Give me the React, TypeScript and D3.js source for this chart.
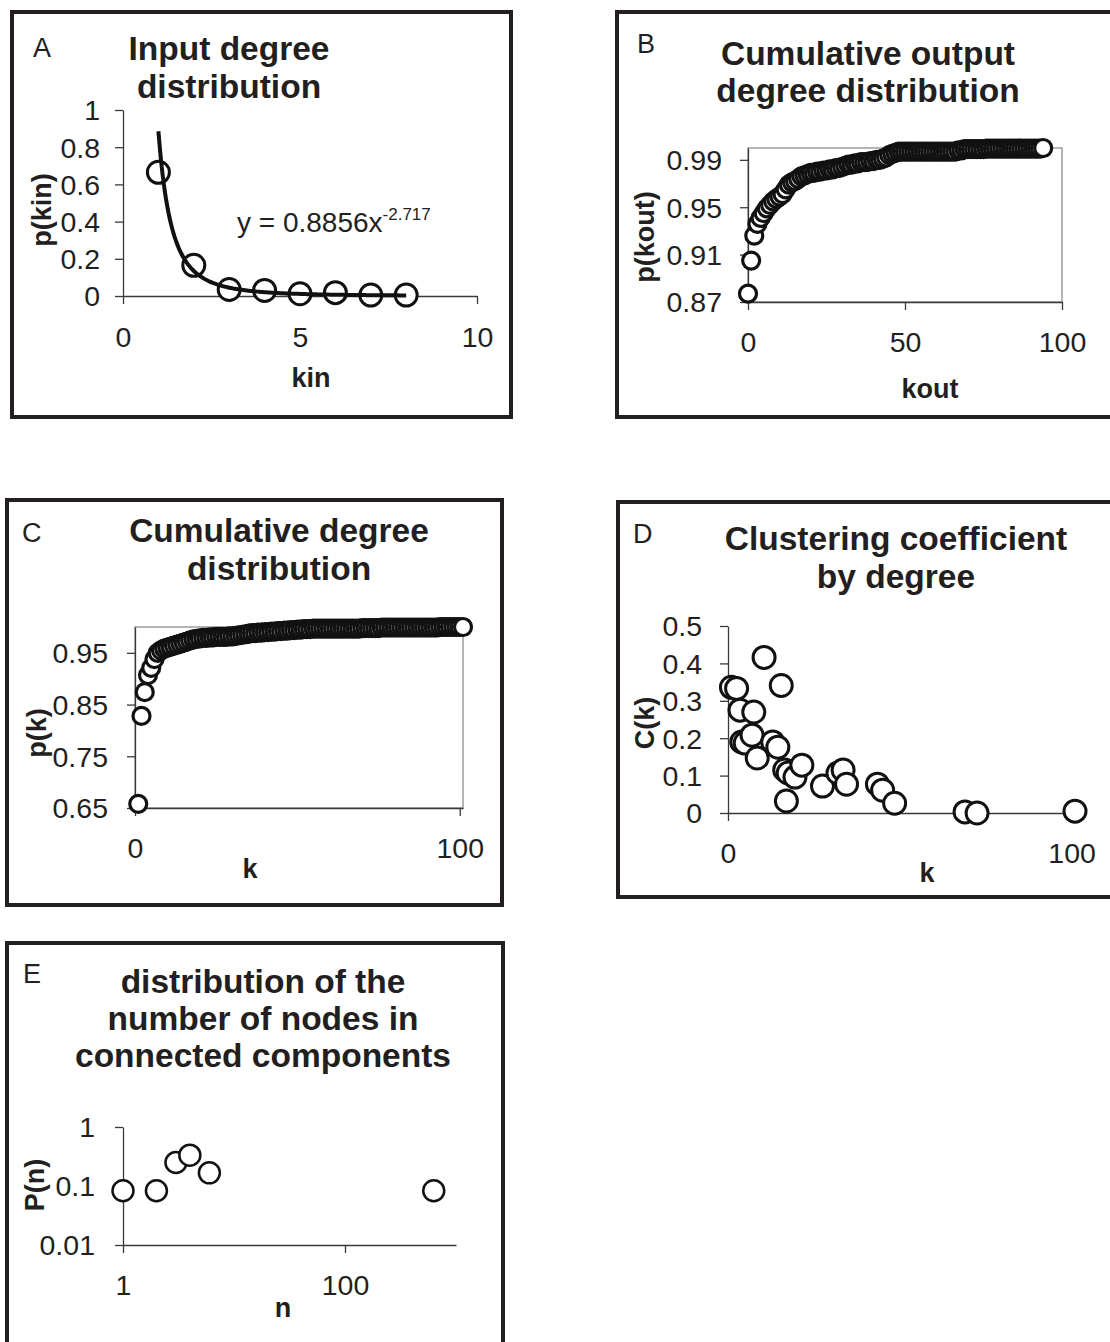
import React, { useEffect, useRef } from 'react'
import * as d3 from 'd3'

const FONT = "'Liberation Sans', Arial, Helvetica, sans-serif"
const INK = '#231f20'
const AXIS = '#3a3a3a'

// A - input degree distribution (kin, p(kin))
const kinValues = [1, 2, 3, 4, 5, 6, 7, 8]
const pKin = [0.665, 0.165, 0.035, 0.03, 0.012, 0.018, 0.005, 0.005]
const fitCoef = 0.8856
const fitExp = -2.717

// B - cumulative output degree distribution, p(kout) for kout = 0..94
const pKout = [
  0.877, 0.905, 0.926, 0.936, 0.941, 0.945, 0.949, 0.952, 0.955, 0.957,
  0.959, 0.961, 0.965, 0.969, 0.971, 0.972, 0.974, 0.976, 0.977, 0.978,
  0.979, 0.979, 0.98, 0.98, 0.981, 0.981, 0.982, 0.982, 0.983, 0.983,
  0.984, 0.985, 0.986, 0.986, 0.987, 0.987, 0.988, 0.988, 0.988, 0.989,
  0.989, 0.99, 0.99, 0.991, 0.992, 0.994, 0.995, 0.996, 0.997, 0.997,
  0.997, 0.997, 0.997, 0.997, 0.997, 0.997, 0.997, 0.997, 0.997, 0.997,
  0.997, 0.997, 0.997, 0.997, 0.997, 0.997, 0.997, 0.998, 0.998, 0.999,
  0.999, 0.999, 0.999, 0.999, 0.999, 0.999, 0.9995, 0.9995, 0.9995, 0.9995,
  0.9995, 0.9995, 0.9995, 0.9995, 0.9995, 0.9995, 0.9995, 0.9995, 0.9995, 0.9995,
  0.9995, 0.9995, 0.9995, 0.9995, 1.0,
]

// C - cumulative degree distribution, p(k) for k = 1..101
const pDegree = [
  0.658, 0.828, 0.874, 0.907, 0.921, 0.938, 0.95, 0.955, 0.958, 0.96,
  0.962, 0.964, 0.966, 0.968, 0.97, 0.972, 0.974, 0.976, 0.977, 0.978,
  0.979, 0.979, 0.98, 0.98, 0.981, 0.981, 0.981, 0.981, 0.982, 0.982,
  0.983, 0.984, 0.985, 0.986, 0.987, 0.988, 0.988, 0.989, 0.989, 0.99,
  0.99, 0.991, 0.991, 0.992, 0.992, 0.993, 0.993, 0.994, 0.994, 0.995,
  0.995, 0.996, 0.996, 0.996, 0.997, 0.997, 0.997, 0.997, 0.997, 0.997,
  0.997, 0.997, 0.997, 0.997, 0.997, 0.997, 0.997, 0.997, 0.997, 0.998,
  0.998, 0.998, 0.998, 0.998, 0.998, 0.999, 0.999, 0.999, 0.999, 0.999,
  0.999, 0.999, 0.999, 0.999, 0.999, 0.999, 0.999, 0.999, 0.999, 0.999,
  0.999, 0.999, 0.999, 1.0, 1.0, 1.0, 1.0, 1.0, 1.0, 1.0,
  1.0,
]

// D - clustering coefficient by degree (k, C(k))
const kCluster = [
  1, 2.5, 3.5, 4, 5, 7, 7.5, 8.5, 10.5, 13, 14.5, 15.5, 16.5, 17,
  17.5, 19.5, 21.5, 27.5, 32, 33.5, 34.5, 43.5, 45, 48.5, 69, 72.5, 101,
]
const cCluster = [
  0.336, 0.333, 0.275, 0.19, 0.187, 0.208, 0.27, 0.147, 0.416, 0.19, 0.176, 0.341, 0.115, 0.032,
  0.107, 0.096, 0.128, 0.072, 0.107, 0.115, 0.077, 0.077, 0.061, 0.026, 0.003, 0, 0.005,
]

// E - distribution of component sizes (n, P(n))
const nSize = [1, 2, 3, 4, 6, 630]
const pSize = [0.083, 0.083, 0.25, 0.333, 0.167, 0.083]

const num = (d: any) => `${+(+d).toFixed(2)}`

const panels = [
  {
    frame: [12, 12, 499, 405], letter: 'A', letterPos: [33, 57],
    title: ['Input degree', 'distribution'], titleX: 229, titleY: [60, 98],
    x: d3.scaleLinear().domain([0, 10]).range([123, 477]),
    y: d3.scaleLinear().domain([0, 1]).range([296, 110]),
    xTicks: [0, 5, 10], yTicks: [0, 0.2, 0.4, 0.6, 0.8, 1], xFmt: num, yFmt: num,
    xLabel: 'kin', xLabelPos: [311, 387], yLabel: 'p(kin)', yLabelPos: [42, 210],
    xTickY: 51, yTickX: 23, box: false,
    data: d3.zip(kinValues, pKin), r: 11, sw: 3,
  },
  {
    frame: [617, 12, 500, 405], letter: 'B', letterPos: [637, 53],
    title: ['Cumulative output', 'degree distribution'], titleX: 868, titleY: [65, 102],
    x: d3.scaleLinear().domain([0, 100]).range([748, 1062]),
    y: d3.scaleLinear().domain([0.87, 1.0]).range([302, 148]),
    xTicks: [0, 50, 100], yTicks: [0.87, 0.91, 0.95, 0.99], xFmt: num, yFmt: d3.format('.2f'),
    xLabel: 'kout', xLabelPos: [930, 398], yLabel: 'p(kout)', yLabelPos: [645, 237],
    xTickY: 50, yTickX: 26, box: true,
    data: pKout.map((p, i) => [i, p]), r: 8.5, sw: 3.2,
  },
  {
    frame: [7, 500, 495, 405], letter: 'C', letterPos: [22, 542],
    title: ['Cumulative degree', 'distribution'], titleX: 279, titleY: [542, 580],
    x: d3.scaleLinear().domain([0, 101]).range([135, 463]),
    y: d3.scaleLinear().domain([0.65, 1.0]).range([808, 627]),
    xTicks: [0, 100], yTicks: [0.65, 0.75, 0.85, 0.95], xFmt: num, yFmt: d3.format('.2f'),
    xLabel: 'k', xLabelPos: [250, 878], yLabel: 'p(k)', yLabelPos: [37, 733],
    xTickY: 50, yTickX: 27, box: true,
    data: pDegree.map((p, i) => [i + 1, p]), r: 8.5, sw: 3.2,
  },
  {
    frame: [618, 502, 500, 395], letter: 'D', letterPos: [633, 543],
    title: ['Clustering coefficient', 'by degree'], titleX: 896, titleY: [550, 588],
    x: d3.scaleLinear().domain([0, 101]).range([728, 1075]),
    y: d3.scaleLinear().domain([0, 0.5]).range([813, 626]),
    xTicks: [0, 100], yTicks: [0, 0.1, 0.2, 0.3, 0.4, 0.5], xFmt: num, yFmt: num,
    xLabel: 'k', xLabelPos: [927, 882], yLabel: 'C(k)', yLabelPos: [645, 723],
    xTickY: 50, yTickX: 26, box: false,
    data: d3.zip(kCluster, cCluster), r: 11, sw: 3,
  },
  {
    frame: [7, 943, 496, 430], letter: 'E', letterPos: [23, 983],
    title: ['distribution of the', 'number of nodes in', 'connected components'], titleX: 263, titleY: [993, 1030, 1067],
    x: d3.scaleLog().domain([1, 1000]).range([123, 456]),
    y: d3.scaleLog().domain([0.01, 1]).range([1245, 1127]),
    xTicks: [1, 100], yTicks: [0.01, 0.1, 1], xFmt: num, yFmt: num,
    xLabel: 'n', xLabelPos: [283, 1317], yLabel: 'P(n)', yLabelPos: [35, 1185],
    xTickY: 50, yTickX: 28, box: false,
    data: d3.zip(nSize, pSize), r: 10.5, sw: 2.5,
  },
]

function drawPanel(svg: any, p: any) {
  const g = svg.append('g')
  const [fx, fy, fw, fh] = p.frame
  const x = p.x, y = p.y
  const [x0, x1] = x.range()
  const [y0, y1] = y.range()

  g.append('rect')
    .attr('x', fx).attr('y', fy).attr('width', fw).attr('height', fh)
    .attr('fill', 'none').attr('stroke', INK).attr('stroke-width', 4)

  g.append('text')
    .attr('x', p.letterPos[0]).attr('y', p.letterPos[1])
    .attr('font-family', FONT).attr('font-size', 27).attr('fill', INK)
    .text(p.letter)

  p.title.forEach((line: string, i: number) => {
    g.append('text')
      .attr('x', p.titleX).attr('y', p.titleY[i])
      .attr('text-anchor', 'middle')
      .attr('font-family', FONT).attr('font-size', 33.5).attr('font-weight', 'bold').attr('fill', INK)
      .text(line)
  })

  if (p.box) {
    g.append('rect')
      .attr('x', x0).attr('y', y1).attr('width', x1 - x0).attr('height', y0 - y1)
      .attr('fill', 'none').attr('stroke', '#8e8e8e').attr('stroke-width', 1.3)
  }

  const gx = g.append('g')
    .attr('transform', `translate(0,${y0})`)
    .call(d3.axisBottom(x).tickValues(p.xTicks).tickSize(8).tickSizeOuter(0).tickFormat(p.xFmt))
  const gy = g.append('g')
    .attr('transform', `translate(${x0},0)`)
    .call(d3.axisLeft(y).tickValues(p.yTicks).tickSize(8).tickSizeOuter(0).tickFormat(p.yFmt))

  ;[gx, gy].forEach(a => {
    a.select('.domain').attr('stroke', AXIS).attr('stroke-width', 1.3)
    a.selectAll('.tick line').attr('stroke', AXIS).attr('stroke-width', 1.3)
    a.selectAll('.tick text')
      .attr('font-family', FONT).attr('font-size', 28.5).attr('fill', INK)
  })
  gx.selectAll('.tick text').attr('y', p.xTickY).attr('dy', 0)
  gy.selectAll('.tick text').attr('x', -p.yTickX).attr('dy', '0.35em')

  g.append('text')
    .attr('x', p.xLabelPos[0]).attr('y', p.xLabelPos[1])
    .attr('text-anchor', 'middle')
    .attr('font-family', FONT).attr('font-size', 27).attr('font-weight', 'bold').attr('fill', INK)
    .text(p.xLabel)

  g.append('text')
    .attr('transform', `translate(${p.yLabelPos[0]},${p.yLabelPos[1]}) rotate(-90)`)
    .attr('text-anchor', 'middle').attr('dy', '0.35em')
    .attr('font-family', FONT).attr('font-size', 27).attr('font-weight', 'bold').attr('fill', INK)
    .text(p.yLabel)

  g.append('g')
    .selectAll('circle')
    .data(p.data)
    .join('circle')
    .attr('cx', (d: number[]) => x(d[0]))
    .attr('cy', (d: number[]) => y(d[1]))
    .attr('r', p.r)
    .attr('fill', '#fff')
    .attr('stroke', '#111')
    .attr('stroke-width', p.sw)

  return g
}

export default function App() {
  const ref = useRef<SVGSVGElement>(null)

  useEffect(() => {
    const svg = d3.select(ref.current)
    svg.selectAll('*').remove()
    svg.append('rect').attr('width', 1110).attr('height', 1342).attr('fill', '#fff')

    panels.forEach((p, i) => {
      const g = drawPanel(svg, p)
      if (i === 0) {
        // power-law trend line of panel A
        const xs = d3.range(1, 8.001, 0.05)
        const line = d3.line<number>()
          .x(d => p.x(d))
          .y(d => p.y(fitCoef * Math.pow(d, fitExp)))
          .curve(d3.curveMonotoneX)
        g.append('path')
          .attr('d', line(xs))
          .attr('fill', 'none').attr('stroke', '#111').attr('stroke-width', 4)
        const eq = g.append('text')
          .attr('x', 237).attr('y', 232)
          .attr('font-family', FONT).attr('font-size', 28).attr('fill', INK)
        eq.append('tspan').text('y = 0.8856x')
        eq.append('tspan').attr('font-size', 17).attr('dy', -12).text('-2.717')
      }
    })
  }, [])

  return (
    <svg
      ref={ref}
      width={1110}
      height={1342}
      style={{ position: 'absolute', left: 0, top: 0, display: 'block' }}
    />
  )
}
